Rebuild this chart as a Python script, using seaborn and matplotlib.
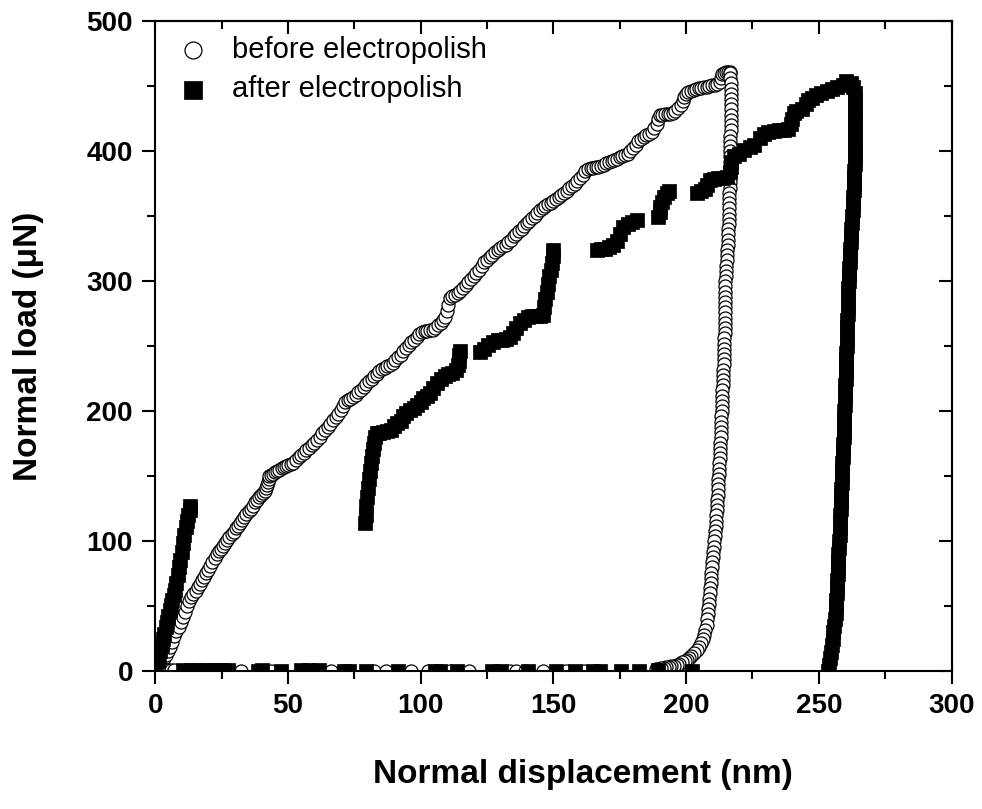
import matplotlib
matplotlib.use("Agg")
import matplotlib.pyplot as plt
import numpy as np
import pandas as pd
import seaborn as sns

# ---------------- data ----------------
before_load_x = [0.0, 0.8, 1.6, 2.4, 3.2, 4.0, 4.8, 5.6, 6.4, 7.2, 8.0, 8.8, 9.6, 10.4, 11.2, 12.0,
                 12.8, 13.6, 14.4, 15.2, 16.0, 16.8, 17.6, 18.4, 19.2, 20.0, 20.8, 21.6, 22.4, 23.2,
                 24.0, 24.8, 25.6, 26.4, 27.2, 28.0, 28.8, 29.6, 30.4, 31.2, 32.0, 32.8, 33.6, 34.4,
                 35.2, 36.0, 36.8, 37.6, 38.4, 39.2, 40.0, 40.6, 41.2, 41.8, 42.2, 42.5, 42.7, 43.0,
                 43.6, 44.4, 45.2, 46.0, 46.8, 47.6, 48.4, 49.2, 50.0, 51.0, 52.0, 53.0, 54.0, 55.0,
                 56.0, 57.0, 58.0, 59.0, 60.0, 61.0, 62.0, 63.0, 64.0, 65.0, 66.0, 67.0, 68.0, 69.0,
                 70.0, 70.8, 71.5, 72.5, 73.5, 74.5, 75.5, 76.5, 77.5, 78.5, 79.5, 80.5, 81.5, 82.5,
                 83.5, 84.5, 85.5, 86.5, 87.5, 88.5, 89.5, 90.5, 91.5, 92.5, 93.5, 94.5, 95.5, 96.5,
                 97.5, 98.5, 99.5, 100.5, 101.5, 102.5, 103.5, 104.5, 105.5, 106.5, 107.5, 108.5,
                 109.3, 110.0, 110.5, 111.0, 112.0, 113.0, 114.0, 115.0, 116.0, 117.0, 118.0, 119.0,
                 120.0, 121.0, 122.0, 123.0, 124.0, 125.0, 126.0, 127.0, 128.0, 129.0, 130.0, 131.0,
                 132.0, 133.0, 134.0, 135.0, 136.0, 137.0, 138.0, 139.0, 140.0, 141.0, 142.0, 143.0,
                 144.0, 145.0, 146.0, 147.0, 148.0, 149.0, 150.0, 151.0, 152.0, 153.0, 154.0, 155.0,
                 156.0, 157.0, 158.0, 159.0, 160.0, 161.0, 162.0, 163.0, 164.0, 165.0, 166.0, 167.0,
                 168.0, 169.0, 170.0, 171.0, 172.0, 173.0, 174.0, 175.0, 176.0, 177.0, 178.0, 179.0,
                 180.0, 181.0, 182.0, 183.0, 184.0, 185.0, 186.0, 187.0, 188.0, 189.0, 189.6, 190.2,
                 191.0, 192.0, 193.0, 194.0, 195.0, 196.0, 197.0, 198.0, 198.8, 199.4, 200.0, 200.8,
                 201.8, 202.8, 203.8, 204.8, 205.8, 206.8, 207.8, 208.8, 209.8, 210.8, 211.8, 212.6,
                 213.0, 213.4, 214.2, 215.0, 215.8, 216.5]
before_load_y = [0.0, 2.0, 3.5, 6.5, 10, 13, 16, 19, 23, 27, 31, 34, 38, 42, 46, 50,
                 54, 57, 59.5, 62, 65, 67.5, 70, 72.5, 75.5, 78, 81, 84, 87, 90,
                 92.5, 94.5, 96.5, 99, 101, 103.5, 105.5, 107.5, 110, 112, 114, 116.5, 118.5, 121,
                 123, 125, 127.5, 130, 132, 134, 136, 137.5, 139, 141, 143, 145.5, 148, 150,
                 151, 152, 153, 153.8, 155, 156.5, 157.5, 158.2, 158.8, 159.5, 160.5, 162.5, 164.5, 166.3,
                 168, 170, 172, 174, 176, 178, 180.5, 183, 185.5, 188, 190.5, 193, 195.5, 198,
                 201, 204, 207, 208.5, 209.5, 211, 212.5, 214.5, 216.5, 218.5, 221, 223, 225, 227,
                 229, 231, 232.5, 233.5, 234.5, 235.6, 237.5, 239.5, 241.5, 243.5, 246, 248.5, 251, 253,
                 255, 257, 259.5, 261, 261.5, 262, 262.3, 262.7, 264, 266, 268, 270,
                 272.5, 277, 282, 287, 288.5, 289.5, 291, 292.5, 294.5, 297, 299.5, 302,
                 304, 306.5, 309, 312, 314.5, 316.5, 318.5, 320.5, 322.7, 324, 325.5, 326.8,
                 328.2, 330, 332, 334.5, 336.5, 338.5, 340.5, 342.5, 344.5, 346.5, 348.5, 350.5,
                 352.7, 354.5, 356, 357.5, 359, 360.5, 362, 363.5, 364.5, 366, 368, 369.5,
                 371.5, 373.3, 375, 377, 379.5, 382, 384.5, 386, 386.7, 387.2, 387.5, 387.8,
                 388.5, 389.5, 390.5, 391.5, 392.7, 393.5, 394.3, 395.2, 396, 396.8, 398, 400,
                 402.5, 405, 407.5, 409.5, 411, 412.5, 413.5, 415, 417.5, 421, 424.5, 427.7,
                 428, 428.2, 428.5, 428.7, 429, 430.5, 433, 435.5, 438.5, 441.5, 444, 445.7,
                 446.5, 447.2, 447.8, 448.2, 448.6, 449, 449.5, 450, 450.5, 451, 451.5, 453.5,
                 456.5, 459.5, 460.3, 460.7, 461, 461]

before_unload_y = [460, 456, 452, 448, 444, 440, 436, 432, 428, 424, 420, 416, 412, 408, 404, 400,
                   396, 392, 388, 384, 380, 376, 372, 368, 364, 360, 356, 352, 348, 344, 340, 336,
                   332, 328, 324, 320, 316, 312, 308, 304, 300, 296, 292, 288, 284, 280, 276, 272,
                   268, 264, 260, 256, 252, 248, 244, 240, 236, 232, 228, 224, 220, 216, 212, 208,
                   204, 200, 196, 192, 188, 184, 180, 176, 172, 168, 164, 160, 156, 152, 148, 144,
                   140, 136, 132, 128, 124, 120, 116, 112, 108, 104, 100, 96, 92, 88, 84, 80,
                   76, 72, 68, 64, 60, 56, 52, 48, 44, 40, 36, 32, 28, 25, 22, 19, 16.5, 14, 12,
                   10.5, 9, 8, 7, 6, 5.2, 4.5, 4, 3.6, 3.2, 2.8, 2.5, 2.2, 2.0]
before_unload_x = [216.6, 216.7, 216.8, 216.8, 216.8, 216.8, 216.8, 216.8, 216.8, 216.8, 216.8,
                   216.8, 216.7, 216.7, 216.7, 216.7, 216.6, 216.6, 216.6, 216.5, 216.5, 216.4,
                   216.4, 216.3, 216.3, 216.2, 216.1, 216.1, 216.0, 216.0, 215.9, 215.8, 215.7,
                   215.6, 215.5, 215.4, 215.3, 215.2, 215.0, 214.9, 214.8, 214.8, 214.7, 214.7,
                   214.6, 214.6, 214.6, 214.5, 214.5, 214.5, 214.5, 214.4, 214.4, 214.3, 214.3,
                   214.2, 214.1, 214.0, 214.0, 213.9, 213.8, 213.7, 213.6, 213.6, 213.5, 213.4,
                   213.3, 213.2, 213.2, 213.1, 213.0, 212.9, 212.8, 212.7, 212.6, 212.5, 212.4,
                   212.3, 212.2, 212.1, 212.0, 211.9, 211.8, 211.6, 211.5, 211.4, 211.2, 211.1,
                   210.9, 210.8, 210.6, 210.4, 210.2, 210.1, 209.9, 209.7, 209.5, 209.4, 209.2,
                   209.0, 208.9, 208.7, 208.5, 208.3, 208.1, 207.9, 207.7, 207.3, 206.9, 206.4,
                   205.8, 205.0, 204.0, 203.0, 202.0, 201.0, 200.2, 199.5, 198.5, 197.5, 196.5,
                   195.5, 194.5, 193.5, 192.5, 191.5, 190.5, 189.5, 188.5]

before_retract_x = [3.0, 4.0, 5.0, 6.0, 7.0, 25.7, 32.4, 40.5, 43.8, 56.0, 66.2, 72.5, 82.5,
                    87.1, 96.4, 102.7, 111.2, 118.3, 133.5, 136.0, 139.3, 146.0, 154.8, 161.5]
before_retract_y = [1.5, 1.2, 1.0, 1.0, 0.8, 0.5, 0.5, 0.5, 0.5, 0.5, 0.5, 0.5, 0.5,
                    0.5, 0.5, 0.5, 0.5, 0.5, 0.5, 0.5, 0.5, 0.5, 0.5, 0.5]

after_load_x = [0, 0.5, 1.0, 1.5, 2.0, 2.5, 3.0, 3.5, 4.0, 4.5, 5.0, 5.5, 6.0, 6.5, 7.0, 7.5, 8.0,
                8.5, 9.0, 9.5, 10.0, 10.5, 11.0, 11.5, 12.0, 12.5, 13.0, 13.3,
                79.0, 79.3, 79.6, 79.9, 80.2, 80.6, 81.0, 81.4, 81.8, 82.2, 82.6, 83.0, 83.5,
                84.5, 86.0, 87.5, 89.0, 90.0, 91.0, 92.5, 93.5, 94.5, 96.0, 97.5, 98.5, 100.0,
                101.0, 102.5, 103.5, 104.5, 106.0, 107.5, 109.0, 110.5, 112.0, 113.5, 114.2,
                114.4, 114.6, 114.8,
                122.4, 124.0, 125.5, 127.4, 129.0, 130.5, 132.0, 133.5, 134.9, 136.0, 137.4,
                139.0, 140.6, 142.0, 143.5, 145.0, 146.2, 146.6, 147.0, 147.5, 148.0, 148.5,
                149.0, 149.5, 149.8, 150.0,
                166.3, 168.0, 169.5, 171.0, 172.6, 174.0, 175.0, 176.3, 178.0, 179.5, 181.4,
                189.5, 190.0, 190.3, 190.8, 191.8, 192.7, 193.5,
                204.0, 205.5, 207.0, 207.7, 209.0, 210.5, 212.0, 214.0, 215.5, 216.5, 217.0,
                217.0, 218.0, 220.0, 222.0, 224.0, 225.5,
                228.0, 229.5, 231.0, 233.0, 235.0, 237.0, 238.5, 239.5, 240.0, 240.5, 241.5,
                243.5, 245.0, 246.0, 247.5, 249.0, 251.0, 253.0, 255.0, 257.0, 259.0, 260.4,
                262.0, 263.0]
after_load_y = [0, 4, 8, 12, 16, 20, 25, 29, 34, 38, 43, 47, 51, 55, 59, 63, 68,
                74, 80, 86, 92, 99, 105, 111, 116, 120, 124, 127,
                114, 120, 127, 134, 141, 148, 154, 160, 166, 171, 176, 180, 183,
                183.5, 184, 184.5, 186, 189, 191, 192.5, 196, 199, 201, 202.5, 205, 207.5,
                210.5, 211.5, 214, 218, 222, 224.5, 227, 228.5, 229.5, 231.5, 235.6,
                239, 243, 246.5,
                245.8, 248, 251, 253.5, 254.5, 255, 255.5, 257, 260, 264, 267.6,
                270, 272.7, 273, 273.3, 273.5, 274, 280, 286, 292, 298, 304,
                309, 314, 319, 324,
                324, 324.5, 325, 326.5, 327.8, 331, 336, 342, 344, 345.5, 347,
                349, 353, 357, 361, 365, 368, 369,
                367.6, 369, 371, 374, 377.8, 378.5, 379, 379, 380, 384, 388,
                392, 396, 398, 401, 403, 404.5,
                410, 413, 414.5, 415.5, 416, 416.5, 417, 421, 425, 429, 431,
                432, 436, 439, 441, 443, 445, 446, 448, 449.5, 451, 454,
                452, 449]

after_unload_y = [445, 440, 435, 430, 425, 420, 415, 410, 405, 400, 395, 390, 385, 380, 375, 370,
                  365, 360, 355, 350, 345, 340, 335, 330, 325, 320, 315, 310, 305, 300, 295, 290,
                  285, 280, 275, 270, 265, 260, 255, 250, 245, 240, 235, 230, 225, 220, 215, 210,
                  205, 200, 195, 190, 185, 180, 175, 170, 165, 160, 155, 150, 145, 140, 135, 130,
                  125, 120, 115, 110, 105, 100, 95, 90, 85, 80, 75, 70, 65, 60, 55, 50, 45, 40,
                  35, 30, 25, 20, 15, 10, 5, 0]
after_unload_x = [263.7, 263.8, 263.8, 263.8, 263.8, 263.7, 263.7, 263.6, 263.6, 263.6, 263.5,
                  263.5, 263.4, 263.3, 263.2, 263.1, 263.0, 262.9, 262.8, 262.6, 262.5, 262.3,
                  262.2, 262.0, 261.9, 261.7, 261.6, 261.4, 261.3, 261.2, 261.1, 261.0, 261.0,
                  260.9, 260.9, 260.8, 260.7, 260.6, 260.6, 260.5, 260.4, 260.3, 260.3, 260.2,
                  260.1, 260.0, 259.9, 259.8, 259.7, 259.6, 259.5, 259.4, 259.4, 259.3, 259.2,
                  259.1, 259.0, 258.9, 258.8, 258.7, 258.6, 258.5, 258.4, 258.3, 258.2, 258.1,
                  258.0, 257.9, 257.8, 257.7, 257.5, 257.4, 257.3, 257.2, 257.1, 257.0, 256.9,
                  256.8, 256.6, 256.5, 256.3, 256.1, 255.8, 255.5, 255.2, 254.8, 254.5, 254.2,
                  253.9, 253.6]

after_retract_x = [10.6, 13.5, 16.5, 19.5, 22.5, 25.0, 27.3, 38.8, 40.1, 47.5, 55.0, 58.0, 61.6,
                   71.0, 73.1, 79.5, 91.5, 105.4, 107.3, 113.7, 126.9, 130.2, 140.5, 151.0,
                   158.0, 165.0, 167.5, 175.5, 182.3, 189.5, 202.1]
after_retract_y = [1.5, 1.2, 1.0, 1.0, 1.0, 0.8, 0.8, 0.5, 0.8, 0.5, 1.5, 1.2, 0.8,
                   0.5, 0.5, 0.5, 0.5, 0.5, 0.5, 0.5, 0.5, 0.5, 0.5, 0.5,
                   0.5, 0.5, 0.5, 0.5, 0.5, 1.0, 0.5]

labels = ["before electropolish", "after electropolish"]
x_ticks = [0, 50, 100, 150, 200, 250, 300]
y_ticks = [0, 100, 200, 300, 400, 500]
x_minor = [25, 75, 125, 175, 225, 275]
y_minor = [50, 150, 250, 350, 450]

# ---------------- build tables ----------------
before = pd.DataFrame({
    "disp": before_load_x + before_unload_x + before_retract_x,
    "load": before_load_y + before_unload_y + before_retract_y,
})
after = pd.DataFrame({
    "disp": after_load_x + after_unload_x + after_retract_x,
    "load": after_load_y + after_unload_y + after_retract_y,
})

# ---------------- style ----------------
sns.set_style("ticks")
plt.rcParams["font.family"] = ["Liberation Sans", "DejaVu Sans"]
plt.rcParams["axes.linewidth"] = 1.5
plt.rcParams["axes.edgecolor"] = "black"
plt.rcParams["xtick.color"] = "black"
plt.rcParams["ytick.color"] = "black"
plt.rcParams["text.color"] = "black"
plt.rcParams["axes.labelcolor"] = "black"

fig = plt.figure(figsize=(9.82, 8.09), dpi=100)
ax = fig.add_axes([0.158, 0.170, 0.811, 0.804])

sns.scatterplot(data=before, x="disp", y="load", ax=ax, marker="o", s=88,
                facecolor="white", edgecolor="black", linewidth=0.9,
                label=labels[0], zorder=2)
sns.scatterplot(data=after, x="disp", y="load", ax=ax, marker="s", s=95,
                color="black", edgecolor="black", linewidth=0.5,
                label=labels[1], zorder=3)

ax.set_xlim(0, 300)
ax.set_ylim(0, 500)
ax.set_xticks(x_ticks)
ax.set_yticks(y_ticks)
ax.set_xticks(x_minor, minor=True)
ax.set_yticks(y_minor, minor=True)
ax.tick_params(axis="both", which="major", direction="out", length=9.5, width=1.5,
               labelsize=20)
ax.tick_params(axis="x", which="major", pad=6)
ax.tick_params(axis="y", which="major", pad=6.5)
ax.tick_params(axis="both", which="minor", direction="out", length=5.5, width=1.5)
for lab in ax.get_xticklabels() + ax.get_yticklabels():
    lab.set_fontweight("bold")

# inward ticks on top and right
secx = ax.secondary_xaxis("top")
secx.set_xticks(x_ticks)
secx.set_xticks(x_minor, minor=True)
secx.tick_params(axis="x", which="major", direction="in", length=9.5, width=1.5, labeltop=False)
secx.tick_params(axis="x", which="minor", direction="in", length=5.5, width=1.5)
secy = ax.secondary_yaxis("right")
secy.set_yticks(y_ticks)
secy.set_yticks(y_minor, minor=True)
secy.tick_params(axis="y", which="major", direction="in", length=9.5, width=1.5, labelright=False)
secy.tick_params(axis="y", which="minor", direction="in", length=5.5, width=1.5)

ax.set_xlabel("Normal displacement (nm)", fontsize=24, fontweight="bold")
ax.set_ylabel("Normal load (\u03bcN)", fontsize=24, fontweight="bold")
ax.xaxis.set_label_coords(0.537, -0.134)
ax.yaxis.set_label_coords(-0.139, 0.5)

leg = ax.legend(loc="upper left", frameon=False, fontsize=21, handletextpad=0.55,
                borderaxespad=0.2, borderpad=0.3, labelspacing=0.4, markerscale=1.3,
                handlelength=1.6)

fig.savefig("out.png", dpi=100)
